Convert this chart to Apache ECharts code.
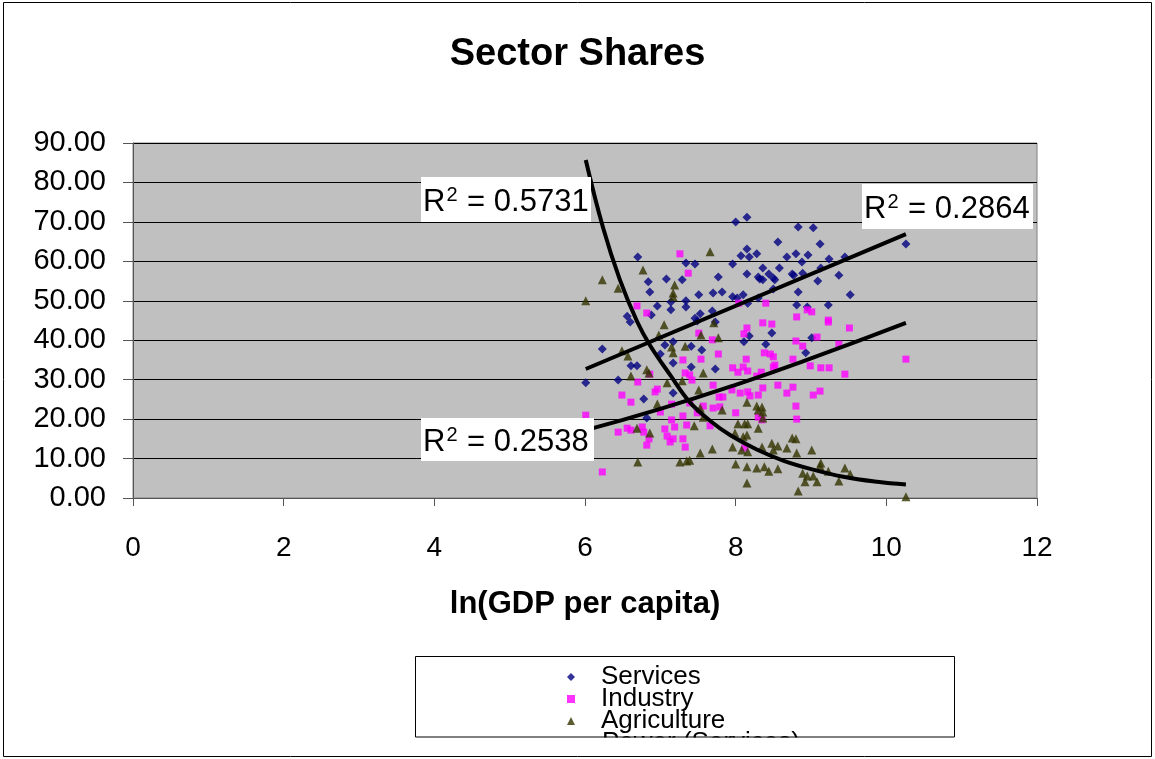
<!DOCTYPE html>
<html>
<head>
<meta charset="utf-8">
<script src="https://cdn.jsdelivr.net/npm/echarts@6/dist/echarts.min.js"></script>
<style>html,body{margin:0;padding:0;background:#fff}#c{width:1155px;height:759px}</style>
</head>
<body>
<div id="c"></div>
<script>
// ---- data ----
var xTicks = [0, 2, 4, 6, 8, 10, 12];
var yTicks = [0, 10, 20, 30, 40, 50, 60, 70, 80, 90];

var servicesData = [
 [6.70,61.1],[7.34,59.6],[6.84,54.8],[6.86,52.2],[7.08,55.5],[7.29,55.3],[7.34,50.0],[7.14,49.7],[6.96,48.7],[6.88,46.4],[6.56,46.1],[7.14,47.7],[7.34,48.4],
 [8.00,70.0],[8.15,71.2],[8.83,68.7],[8.56,64.9],[8.15,63.1],[8.07,61.4],[8.18,61.1],[8.28,61.9],[8.68,61.1],[8.80,61.9],[8.88,59.8],[8.96,61.6],[7.46,59.3],[7.96,59.3],[8.36,58.3],[8.58,58.3],[7.77,56.0],[8.15,56.8],[8.30,56.0],[8.32,55.5],[8.36,55.3],[8.44,56.8],[8.50,55.8],[8.52,55.3],[8.75,56.8],[8.77,56.5],[8.89,57.0],[7.51,51.5],[7.70,52.0],[7.82,52.2],[7.96,51.0],[8.02,50.7],[8.10,51.5],[8.50,53.0],[8.83,52.2],[8.30,50.7],[8.81,48.9],[8.95,48.4],[7.69,47.4],[7.53,46.7],[7.46,45.6],[8.16,49.4],
 [9.03,68.5],[9.12,64.4],[9.24,60.6],[9.45,61.1],[10.26,64.4],[9.13,58.3],[9.09,55.0],[9.37,56.5],[9.52,51.5],[9.23,48.9],
 [6.60,44.6],[6.23,37.8],[7.06,38.8],[7.17,39.6],[7.00,36.5],[7.17,34.2],[6.61,33.5],[6.69,33.5],[6.44,29.9],[6.01,29.2],[7.17,26.6],[6.78,25.1],[6.82,20.3],
 [7.73,44.6],[7.49,44.9],[8.18,41.1],[8.48,41.8],[8.11,39.6],[8.40,39.0],[8.93,36.8],[7.41,38.5],[7.55,37.5],[7.73,32.7],[7.41,33.2],[9.01,40.6]
];

var industryData = [
 [7.26,61.9],[7.37,57.0],[6.69,48.7],[6.82,46.9],[8.04,49.4],[8.40,49.4],[8.95,47.7],[8.81,45.9],[9.01,47.2],[9.23,45.1],
 [7.30,35.0],[6.86,31.4],[6.70,29.4],[7.33,31.7],[6.93,26.9],[6.96,27.6],[6.49,26.1],[6.61,24.3],[7.15,23.8],[6.01,21.0],[7.00,21.8],[7.15,19.8],[7.19,18.0],[7.30,20.8],[7.35,18.5],[6.44,16.7],[6.56,17.7],[6.61,17.2],[6.76,18.0],[6.78,16.7],[7.06,17.5],[7.09,15.7],[7.13,14.2],[7.17,15.0],[6.85,15.0],[6.82,13.4],[7.30,15.0],[7.33,12.9],[6.23,6.6],
 [8.36,44.4],[8.48,44.1],[8.15,43.1],[8.11,41.6],[7.51,41.8],[7.69,40.1],[8.80,39.8],[8.89,38.5],[7.77,36.5],[8.38,36.8],[8.46,36.5],[8.50,35.8],[8.52,33.7],[7.54,35.2],[8.14,35.2],[8.76,35.2],[7.96,33.0],[8.03,31.9],[8.10,33.2],[8.16,32.2],[8.34,31.9],[8.50,33.2],[8.28,30.9],[7.39,31.2],[7.42,29.9],[7.70,28.6],[8.56,28.6],[8.76,28.1],[8.68,26.6],[7.95,27.4],[8.06,26.6],[8.16,26.9],[8.19,25.9],[8.30,26.1],[8.36,27.9],[7.78,25.6],[7.83,25.6],[7.39,24.1],[7.57,23.3],[7.70,22.8],[7.79,23.1],[8.80,23.3],[7.49,21.6],[8.00,21.6],[8.30,20.5],[8.35,19.8],[8.81,20.0],[7.66,18.3],[8.12,12.7],
 [9.23,44.6],[9.51,43.1],[9.08,40.8],[9.37,39.0],[10.26,35.2],[8.99,33.5],[9.13,33.0],[9.24,33.0],[9.45,31.4],[9.03,26.1],[9.12,27.1]
];

var agricultureData = [
 [6.77,57.8],[6.23,55.3],[6.44,53.2],[6.01,50.0],[7.19,54.0],[7.17,52.0],[7.17,51.0],[7.66,62.4],
 [7.05,43.9],[6.98,41.3],[6.49,37.3],[6.57,36.0],[7.15,38.3],[7.17,36.8],[7.33,38.5],[6.82,32.5],[6.85,31.7],[6.61,30.9],[7.09,29.2],[7.29,29.7],[6.96,23.8],[6.69,17.7],[6.86,16.5],[6.70,9.1],[7.26,9.1],[7.35,9.4],
 [7.71,44.4],[7.54,41.3],[7.77,40.6],[7.57,31.7],[7.51,27.4],[8.15,24.3],[8.28,23.3],[8.35,23.1],[8.30,22.3],[8.36,21.8],[7.82,22.3],[7.53,22.8],[7.57,20.5],[8.36,20.3],[7.45,18.3],[8.03,18.8],[8.12,18.8],[8.16,18.8],[8.30,17.7],[7.99,16.5],[8.10,15.5],[8.15,16.0],[8.75,15.2],[8.80,15.0],[7.96,12.9],[8.35,12.9],[8.48,13.9],[8.56,13.2],[8.50,12.2],[8.68,12.7],[8.81,11.4],[8.08,12.2],[8.16,11.7],[7.69,12.4],[7.53,11.4],[7.39,9.6],[8.00,8.6],[8.15,7.9],[8.28,7.6],[8.38,7.9],[8.44,6.8],[8.56,7.4],[8.89,6.3],[8.95,5.6],[8.15,3.8],[8.83,1.8],[8.92,4.1],
 [9.01,12.2],[9.13,8.9],[9.12,8.1],[9.45,7.6],[9.23,6.8],[9.52,6.1],[9.03,5.6],[9.08,4.1],[9.37,4.3],[10.26,0.3]
];

// trend lines
var servicesTrend = [[6.01,32.7],[10.26,66.9]];
var industryTrend = [[6.01,17.2],[7.0,22.6],[8.0,28.7],[9.0,35.4],[10.26,44.4]];
var agricultureTrend = [[6.01,85.7],[6.24,68.5],[6.46,55.5],[6.69,44.8],[6.86,38.8],[7.13,31.2],[7.39,24.3],[7.66,19.6],[7.93,15.9],[8.28,12.3],[8.63,9.5],[8.99,7.4],[9.43,5.4],[9.88,4.1],[10.26,3.4]];

var r2Labels = ['0.5731', '0.2864', '0.2538'];
var legendNames = ['Services', 'Industry', 'Agriculture', 'Power (Services)'];

// ---- chart ----
var FONT = 'Liberation Sans, Arial, sans-serif';
var chart = echarts.init(document.getElementById('c'), null, {renderer: 'canvas'});

function r2(val, x, y, w, h) {
  return [
    {type: 'rect', shape: {x: x, y: y, width: w, height: h}, style: {fill: '#fff'}, z: 100},
    {type: 'text', x: x + 2, y: y + h / 2 + 1, z: 101,
     style: {text: '{r|R}{s|2}{r| = ' + val + '}', verticalAlign: 'middle', textAlign: 'left',
       rich: {r: {fontSize: 31, fontFamily: FONT, fill: '#000', lineHeight: 34, verticalAlign: 'bottom'},
              s: {fontSize: 20, fontFamily: FONT, fill: '#000', lineHeight: 34, verticalAlign: 'top', padding: [2, 1, 0, 1]}}}}
  ];
}

var graphics = [
  {type: 'rect', shape: {x: 3.5, y: 2.5, width: 1148, height: 754}, style: {fill: 'none', stroke: '#000', lineWidth: 1}, z: 0, silent: true},
  {type: 'rect', shape: {x: 416, y: 737.5, width: 538, height: 18}, style: {fill: '#fff'}, z: 200},
  {type: 'rect', shape: {x: 415.5, y: 656.5, width: 539, height: 80.5}, style: {fill: 'none', stroke: '#000', lineWidth: 1}, z: 201}
].concat(r2(r2Labels[0], 421, 177, 170, 45))
 .concat(r2(r2Labels[1], 862, 184, 171, 45))
 .concat(r2(r2Labels[2], 421, 418, 173, 43));

var legendCenters = [677, 699, 721, 743];
function legendItem(i) {
  return {
    data: [legendNames[i]], orient: 'vertical', left: 567, top: legendCenters[i] - 13, padding: 0,
    itemWidth: 8, itemHeight: 8, selectedMode: false,
    textStyle: {fontFamily: FONT, fontSize: 26, color: '#000', lineHeight: 26, padding: [0, 0, 0, 21]}
  };
}

chart.setOption({
  animation: false,
  backgroundColor: '#fff',
  title: {text: 'Sector Shares', left: 'center', top: 31,
    textStyle: {fontFamily: FONT, fontSize: 38, fontWeight: 'bold', color: '#000'}},
  grid: {left: 133, right: 118, top: 143, bottom: 261, show: true, backgroundColor: '#C0C0C0', borderColor: '#808080', borderWidth: 1},
  legend: [legendItem(0), legendItem(1), legendItem(2), legendItem(3)],
  xAxis: {
    type: 'value', min: xTicks[0], max: xTicks[xTicks.length - 1], interval: 2,
    name: 'ln(GDP per capita)', nameLocation: 'middle', nameGap: 91,
    nameTextStyle: {fontFamily: FONT, fontSize: 31, fontWeight: 'bold', color: '#000'},
    axisLine: {show: true, lineStyle: {color: '#555'}},
    axisTick: {show: true, inside: false, length: 8, lineStyle: {color: '#555'}},
    axisLabel: {fontFamily: FONT, fontSize: 28, color: '#000', margin: 36},
    splitLine: {show: false}
  },
  yAxis: {
    type: 'value', min: yTicks[0], max: yTicks[yTicks.length - 1], interval: 10,
    axisLine: {show: true, lineStyle: {color: '#555'}},
    axisTick: {show: true, inside: false, length: 10, lineStyle: {color: '#555'}},
    axisLabel: {fontFamily: FONT, fontSize: 29, color: '#000', margin: 27, formatter: function (v) { return v.toFixed(2); }},
    splitLine: {show: true, lineStyle: {color: '#000', width: 1}}
  },
  series: [
    {name: 'Services', type: 'scatter', data: servicesData, symbol: 'diamond', symbolSize: 9, itemStyle: {color: '#000080'}, z: 3},
    {name: 'Industry', type: 'scatter', data: industryData, symbol: 'rect', symbolSize: 7, itemStyle: {color: '#FF00FF'}, z: 3},
    {name: 'Agriculture', type: 'scatter', data: agricultureData, symbol: 'triangle', symbolSize: 9, itemStyle: {color: '#333300'}, z: 3},
    {name: 'Power (Services)', type: 'line', data: servicesTrend, showSymbol: false, symbol: 'none', lineStyle: {color: '#000', width: 4}, itemStyle: {color: '#000'}, z: 5},
    {name: 'Power (Industry)', type: 'line', data: industryTrend, smooth: true, showSymbol: false, symbol: 'none', lineStyle: {color: '#000', width: 4}, z: 5},
    {name: 'Power (Agriculture)', type: 'line', data: agricultureTrend, smooth: 0.4, showSymbol: false, symbol: 'none', lineStyle: {color: '#000', width: 4}, z: 5}
  ],
  graphic: graphics
});
</script>
</body>
</html>
